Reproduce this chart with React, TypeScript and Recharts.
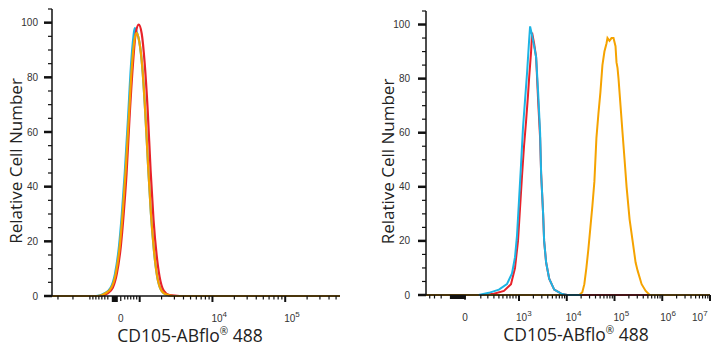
import React from 'react';
import { LineChart, Line, XAxis, YAxis } from 'recharts';

// ---------- colours ----------
const RED = '#e8222a';
const CYAN = '#1db4e4';
const ORANGE = '#f5a300';

// x values are in display decades of a biexponential axis (3 = 10^3, 4 = 10^4 ...)

// ---------- Left panel data ----------
const leftDomain: [number, number] = [1.795, 5.753];
const leftCyan: number[][] = [
  [1.795, 0], [2.40, 0], [2.52, 1], [2.60, 3], [2.66, 8], [2.715, 18], [2.755, 30], [2.795, 45],
  [2.84, 65], [2.88, 84], [2.915, 95], [2.932, 98], [2.96, 96.5], [2.995, 93], [3.035, 84], [3.075, 68],
  [3.115, 48], [3.155, 30], [3.195, 17], [3.235, 8], [3.28, 3], [3.35, 0.7], [3.46, 0], [5.753, 0],
];
const leftRed: number[][] = [
  [1.795, 0], [2.45, 0], [2.56, 1], [2.63, 3], [2.685, 8], [2.74, 18], [2.78, 30], [2.82, 45],
  [2.86, 65], [2.905, 84], [2.945, 96], [2.987, 99.3], [3.028, 96], [3.069, 85], [3.11, 68],
  [3.15, 46], [3.19, 28], [3.233, 15], [3.274, 7], [3.33, 2], [3.41, 0.3], [3.55, 0], [5.753, 0],
];
const leftOrange: number[][] = [
  [1.795, 0], [2.42, 0], [2.53, 1], [2.61, 3], [2.67, 8], [2.725, 18], [2.765, 30], [2.805, 45],
  [2.85, 65], [2.89, 83], [2.93, 94], [2.96, 96.3], [2.995, 93], [3.035, 84], [3.075, 68],
  [3.115, 48], [3.155, 30], [3.195, 17], [3.235, 8], [3.28, 3], [3.35, 0.7], [3.46, 0], [5.753, 0],
];

// ---------- Right panel data ----------
const rightDomain: [number, number] = [1.052, 7.0];
const rightRed: number[][] = [
  [1.052, 0], [2.263, 0], [2.474, 0.5], [2.684, 1.5], [2.832, 4], [2.916, 10], [2.979, 20],
  [3.021, 32], [3.063, 44], [3.105, 55], [3.147, 64], [3.189, 74], [3.211, 80], [3.253, 90],
  [3.274, 97], [3.316, 93], [3.358, 88], [3.40, 72], [3.442, 58], [3.463, 45], [3.505, 30],
  [3.526, 20], [3.568, 12], [3.632, 6], [3.737, 2], [3.884, 0.5], [4.011, 0], [7.0, 0],
];
const rightCyan: number[][] = [
  [2.158, 0], [2.368, 0.8], [2.579, 2], [2.747, 4], [2.853, 8], [2.916, 14],
  [2.958, 22], [3.0, 35], [3.042, 48], [3.084, 62], [3.126, 72], [3.168, 82], [3.211, 94],
  [3.232, 99.3], [3.274, 96], [3.316, 92], [3.358, 88], [3.40, 75], [3.442, 60], [3.463, 45],
  [3.505, 30], [3.526, 20], [3.568, 12], [3.632, 6], [3.737, 2], [3.884, 0.5], [4.011, 0], [4.32, 0],
];
const rightOrange: number[][] = [
  [1.052, 0], [4.263, 0], [4.326, 1], [4.368, 4], [4.411, 10], [4.453, 17], [4.495, 25],
  [4.537, 33], [4.579, 42], [4.621, 58], [4.663, 67], [4.705, 75], [4.747, 85], [4.789, 90],
  [4.832, 93], [4.853, 95], [4.895, 94], [4.937, 95], [4.979, 95], [5.021, 92], [5.042, 86],
  [5.063, 84], [5.084, 80], [5.126, 70], [5.168, 60], [5.211, 50], [5.253, 40], [5.316, 28],
  [5.379, 20], [5.442, 12], [5.484, 9], [5.568, 4], [5.653, 1.5], [5.737, 0], [7.0, 0],
];

// ---------- Tick definitions ----------
const yTicks = [0, 5, 10, 15, 20, 25, 30, 35, 40, 45, 50, 55, 60, 65, 70, 75, 80, 85, 90, 95, 100, 105];
const yMajor = [0, 20, 40, 60, 80, 100];

const leftZero = 2.74;
const leftBlock = 2.658;
const leftLinearMinor = [1.877, 2.083, 2.316, 2.357, 2.398, 2.439, 2.48, 2.521, 2.562, 2.795, 2.836, 2.877, 2.918, 2.959];
const leftDecades = [3, 4, 5];
const leftLabels = ['', '4', '5'];
const leftLabelDx = [0, -1, -1];

const rightZero = 1.869;
const rightBlock = 1.72;
const rightLinearMinor = [1.13, 1.23, 1.37, 2.2, 2.347, 2.474, 2.579, 2.663, 2.747, 2.811, 2.874, 2.937];
const rightDecades = [3, 4, 5, 6, 7];
const rightLabels = ['3', '4', '5', '6', '7'];
const rightLabelDx = [-3, -1, -1, -2, -18];

type TickInfo = { kind: string; label?: string; w?: number; dx?: number };

function buildTicks(domain: [number, number], zero: number, block: number, blockW: number,
  linMinor: number[], decades: number[], labels: string[], labelDx: number[]) {
  const info = new Map<string, TickInfo>();
  const key = (v: number) => v.toFixed(4);
  const add = (v: number, t: TickInfo) => { if (v >= domain[0] - 1e-6 && v <= domain[1] + 1e-6) info.set(key(v), t); };
  linMinor.forEach((v) => add(v, { kind: 'minor' }));
  decades.forEach((d) => {
    for (let k = 2; k <= 9; k++) add(d + Math.log10(k), { kind: 'minor' });
  });
  decades.forEach((d, i) => add(d, { kind: 'major', label: labels[i] || undefined, dx: labelDx[i] }));
  add(zero, { kind: 'mid', label: '0' });
  add(block, { kind: 'block', w: blockW });
  const values = Array.from(info.keys()).map(Number).sort((a, b) => a - b);
  return { info, values, key };
}

const leftTicks = buildTicks(leftDomain, leftZero, leftBlock, 6, leftLinearMinor, leftDecades, leftLabels, leftLabelDx);
const rightTicks = buildTicks(rightDomain, rightZero, rightBlock, 16, rightLinearMinor, rightDecades, rightLabels, rightLabelDx);

const tickFont = '"Liberation Sans", Arial, sans-serif';
const titleFont = '"Open Sans", "Noto Sans", sans-serif';

function makeXTick(set: ReturnType<typeof buildTicks>) {
  return (props: any) => {
    const { x, y, payload } = props;
    const t = set.info.get(set.key(payload.value));
    if (!t) return <g />;
    if (t.kind === 'block') {
      return <rect x={x - (t.w || 6) / 2} y={y} width={t.w || 6} height={t.w && t.w > 8 ? 4 : 6} fill="#111" />;
    }
    const len = t.kind === 'major' ? 6 : t.kind === 'mid' ? 5 : 3.5;
    const sw = t.kind === 'major' ? 2 : 1.2;
    return (
      <g>
        <line x1={x} x2={x} y1={y} y2={y + len} stroke="#111" strokeWidth={sw} />
        {t.label === '0' && (
          <text x={x} y={y + 26} textAnchor="middle" fontSize={10} fontFamily={tickFont} fill="#333">0</text>
        )}
        {t.label && t.label !== '0' && (
          <text x={x + (t.dx || 0)} y={y + 26} textAnchor="start" fontSize={10} fontFamily={tickFont} fill="#333">
            10<tspan dy={-5} fontSize={8}>{t.label}</tspan>
          </text>
        )}
      </g>
    );
  };
}

function makeYTick(gap: number) {
  return (props: any) => {
    const { x, y, payload } = props;
    const v = payload.value;
    const major = yMajor.includes(v);
    return (
      <g>
        <line x1={x - (major ? 8 : 4)} x2={x} y1={y} y2={y} stroke="#111" strokeWidth={major ? 2.5 : 1.2} />
        {major && (
          <text x={x - gap} y={y + 3.5} textAnchor="end" fontSize={10} fontFamily={tickFont} fill="#333">{v}</text>
        )}
      </g>
    );
  };
}

function yTitle(cx: number, dy: number) {
  return (p: any) => {
    const vb = p.viewBox || { x: 0, y: 0, width: 0, height: 0 };
    const x = vb.x + cx;
    const y = vb.y + vb.height / 2 + dy;
    return (
      <text x={x} y={y} transform={`rotate(-90, ${x}, ${y})`} textAnchor="middle" dominantBaseline="central"
        fontSize={17} fontFamily={titleFont} fill="#222">Relative Cell Number</text>
    );
  };
}

function xTitle(dx: number) {
  return (p: any) => {
    const vb = p.viewBox || { x: 0, y: 0, width: 0, height: 0 };
    const x = vb.x + vb.width / 2 + dx;
    const y = vb.y + 46;
    return (
      <text x={x} y={y} textAnchor="middle" fontSize={17.5} fontFamily={titleFont} fill="#222">
        CD105-ABflo<tspan dy={-7} fontSize={10}>®</tspan><tspan dy={7}> 488</tspan>
      </text>
    );
  };
}

const toPts = (arr: number[][]) => arr.map(([x, y]) => ({ x, y }));

function Panel(props: {
  width: number; margin: any; yWidth: number; xHeight: number; domain: [number, number];
  ticks: ReturnType<typeof buildTicks>; series: { data: number[][]; color: string }[];
  curve: 'monotone' | 'linear'; yGap: number; yTitleX: number; xTitleDx: number; frameW: number; strokeW: number;
}) {
  const { width, margin, yWidth, xHeight, domain, ticks, series, curve, yGap, yTitleX, xTitleDx, frameW, strokeW } = props;
  return (
    <LineChart width={width} height={350} margin={margin}>
      <XAxis dataKey="x" type="number" domain={domain} allowDataOverflow ticks={ticks.values} interval={0}
        tick={makeXTick(ticks)} tickLine={false} tickSize={0} tickMargin={0} height={xHeight}
        axisLine={{ stroke: '#111', strokeWidth: 1.5 }} label={xTitle(xTitleDx)} />
      <XAxis xAxisId="top" orientation="top" dataKey="x" type="number" domain={domain} height={0} tick={false}
        tickLine={false} axisLine={{ stroke: '#9a9a9a', strokeWidth: frameW }} />
      <YAxis type="number" domain={[0, 105]} ticks={yTicks} interval={0} tick={makeYTick(yGap)} tickLine={false}
        tickSize={0} tickMargin={0} width={yWidth} axisLine={{ stroke: '#111', strokeWidth: 1.5 }}
        label={yTitle(yTitleX, 8.5)} />
      <YAxis yAxisId="right" orientation="right" type="number" domain={[0, 105]} width={0} tick={false}
        tickLine={false} axisLine={{ stroke: '#9a9a9a', strokeWidth: frameW }} />
      {series.map((s, i) => (
        <Line key={i} data={toPts(s.data)} dataKey="y" type={curve} stroke={s.color} strokeWidth={strokeW}
          dot={false} activeDot={false} isAnimationActive={false} />
      ))}
    </LineChart>
  );
}

export default function App() {
  return (
    <div style={{ position: 'absolute', left: 0, top: 0, width: 719, height: 350, background: '#fff' }}>
      <div style={{ position: 'absolute', left: 0, top: 0 }}>
        <Panel width={360} margin={{ top: 9, right: 20, bottom: 0, left: 0 }} yWidth={52} xHeight={54}
          domain={leftDomain} ticks={leftTicks} curve="monotone" yGap={14} yTitleX={15} xTitleDx={-6}
          frameW={1.5} strokeW={2.2}
          series={[{ data: leftCyan, color: CYAN }, { data: leftRed, color: RED }, { data: leftOrange, color: ORANGE }]} />
      </div>
      <div style={{ position: 'absolute', left: 360, top: 0 }}>
        <Panel width={359} margin={{ top: 11, right: 9, bottom: 0, left: 0 }} yWidth={66} xHeight={55}
          domain={rightDomain} ticks={rightTicks} curve="linear" yGap={16} yTitleX={27} xTitleDx={8}
          frameW={2} strokeW={2}
          series={[{ data: rightRed, color: RED }, { data: rightOrange, color: ORANGE }, { data: rightCyan, color: CYAN }]} />
      </div>
    </div>
  );
}
